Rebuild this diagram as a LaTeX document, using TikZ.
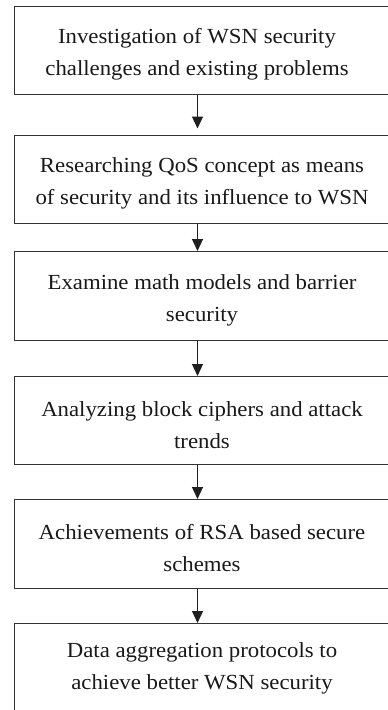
\documentclass[tikz,border=0pt]{standalone}
\usepackage{fontspec}
\setmainfont{Liberation Serif}[FakeStretch=1.06]
\usetikzlibrary{arrows.meta}
\begin{document}
\begin{tikzpicture}[x=1pt,y=-1pt,
  boxstyle/.style={draw=black!80, line width=1pt, inner sep=0pt, minimum width=386.5pt, anchor=north west},
  txt/.style={align=center, font=\fontsize{21.5}{32}\selectfont, text=black!90, inner sep=0pt},
  arr/.style={draw=black!88, line width=1.2pt, -{Triangle[length=12pt,width=11pt]}}]
\useasboundingbox (0,0) rectangle (388,710);
\clip (0,0) rectangle (388,710);
\fill[white] (0,0) rectangle (388,710);
% boxes
\node[boxstyle, minimum height=88.5pt] (b1) at (13.5,5.5) {};
\node[boxstyle, minimum height=88pt] (b2) at (13.5,134.5) {};
\node[boxstyle, minimum height=88.5pt] (b3) at (13.5,251) {};
\node[boxstyle, minimum height=88pt] (b4) at (13.5,376) {};
\node[boxstyle, minimum height=89pt] (b5) at (13.5,499) {};
\node[boxstyle, minimum height=150pt] (b6) at (13.5,623) {};
% arrow axis
\coordinate (ax) at (197.5,0);
% texts
\node[txt] (t1) at (197,54) {Investigation of WSN security\\challenges and existing problems};
\node[txt] (t2) at (202,183) {Researching QoS concept as means\\of security and its influence to WSN};
\node[txt] (t3) at (202,300) {Examine math models and barrier\\security};
\node[txt] (t4) at (202,425) {Analyzing block ciphers and attack\\trends};
\node[txt] (t5) at (202,548) {Achievements of RSA based secure\\schemes};
\node[txt] (t6) at (202,668) {Data aggregation protocols to\\achieve better WSN security};
% arrows
\draw[arr, shorten >=6pt] (b1.south -| ax) -- (b2.north -| ax);
\draw[arr] (b2.south -| ax) -- (b3.north -| ax);
\draw[arr] (b3.south -| ax) -- (b4.north -| ax);
\draw[arr] (b4.south -| ax) -- (b5.north -| ax);
\draw[arr] (b5.south -| ax) -- (b6.north -| ax);
\end{tikzpicture}
\end{document}
